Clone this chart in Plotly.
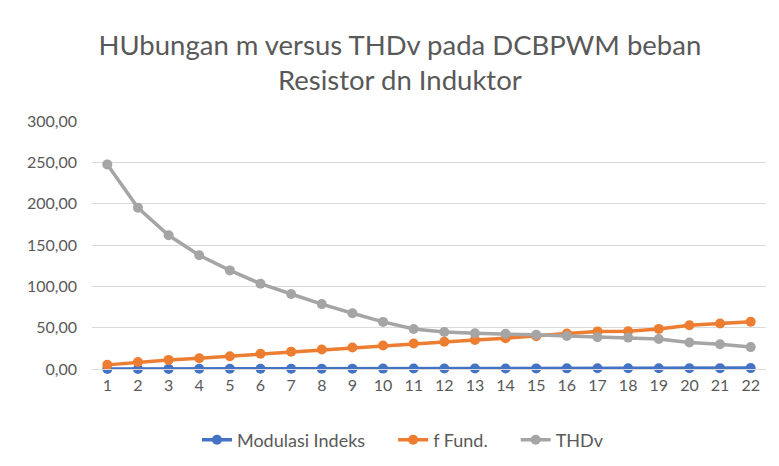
import plotly.graph_objects as go

categories = [str(i) for i in range(1, 23)]
modulasi_indeks = [0.05, 0.10, 0.15, 0.20, 0.25, 0.30, 0.35, 0.40, 0.45, 0.50, 0.55,
                   0.60, 0.65, 0.70, 0.75, 0.80, 0.85, 0.90, 0.95, 1.00, 1.05, 1.10]
f_fund = [5.0, 8.5, 11.0, 13.0, 15.5, 18.5, 21.0, 23.5, 26.0, 28.5, 30.8,
          33.0, 35.2, 37.2, 39.6, 43.0, 45.5, 45.6, 48.5, 52.9, 55.0, 57.2]
thdv = [247.5, 195.0, 161.8, 137.5, 119.3, 103.2, 90.7, 78.5, 67.5, 57.0, 48.3,
        44.8, 43.2, 42.5, 41.3, 40.0, 38.5, 38.0, 36.2, 32.0, 30.0, 26.5]
y_ticks = [0, 50, 100, 150, 200, 250, 300]
y_tick_labels = ["0,00", "50,00", "100,00", "150,00", "200,00", "250,00", "300,00"]

series = [
    ("Modulasi Indeks", modulasi_indeks, "#4472C4"),
    ("f Fund.", f_fund, "#ED7D31"),
    ("THDv", thdv, "#A5A5A5"),
]

pad = "\u00a0" * 5

fig = go.Figure()
for i, (name, vals, color) in enumerate(series):
    label = name + (pad if i < len(series) - 1 else "")
    fig.add_trace(go.Scatter(
        x=categories, y=vals, name=label, mode="lines+markers",
        line=dict(color=color, width=3.5),
        marker=dict(color=color, size=10),
        cliponaxis=False,
    ))

fig.update_layout(
    width=779, height=466,
    paper_bgcolor="white", plot_bgcolor="white",
    margin=dict(l=84, r=21, t=113, b=105, autoexpand=False),
    font=dict(family="Lato", color="#595959", size=16),
    title=dict(
        text="HUbungan m versus THDv pada DCBPWM beban<br>Resistor dn Induktor",
        x=0.503, xanchor="center", yref="container", y=0.90, yanchor="top",
        font=dict(family="Lato", size=27.5, color="#595959"),
    ),
    legend=dict(orientation="h", xref="container", x=0.507, xanchor="center",
                yref="container", y=0.073, yanchor="middle",
                font=dict(size=18, color="#595959")),
    showlegend=True,
)
fig.update_xaxes(
    type="category", range=[-0.5, 21.5],
    showgrid=False, showline=True, linecolor="#D9D9D9", linewidth=1,
    ticks="", tickfont=dict(size=16, color="#595959"),
    ticklabelstandoff=2,
)
fig.update_yaxes(
    range=[0, 300], tickvals=y_ticks, ticktext=y_tick_labels,
    showgrid=True, gridcolor="#D9D9D9", gridwidth=1,
    zeroline=False, showline=False, ticks="",
    tickfont=dict(size=16, color="#595959"),
    ticklabelstandoff=14,
)

fig.write_html("out.html")
